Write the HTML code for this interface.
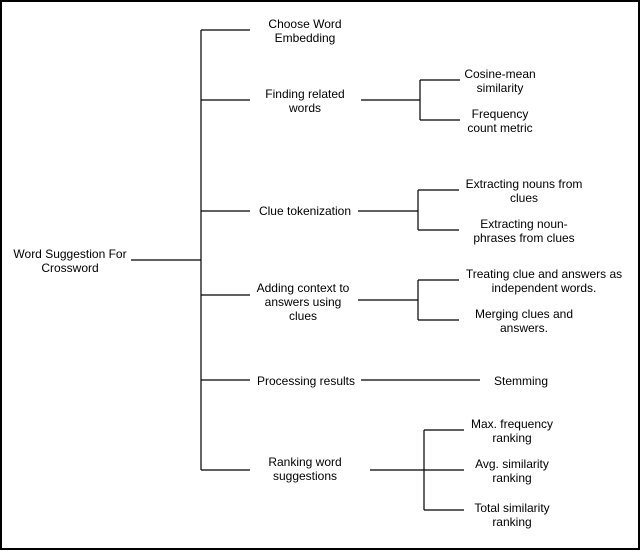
<!DOCTYPE html>
<html><head><style>
html,body{margin:0;padding:0;background:#fff;}
svg{display:block;}
text{font-family:"Liberation Sans",Arial,sans-serif;font-size:12px;fill:#000;text-anchor:middle;}
</style></head><body>
<svg width="641" height="551" viewBox="0 0 641 551" xmlns="http://www.w3.org/2000/svg">
<rect x="1" y="1" width="638" height="548" fill="#fff" stroke="#000" stroke-width="2"/>
<g stroke="#000" stroke-width="1.2" fill="none">
<path d="M131 260H201M201 30V470M201 30H250M201 100H250M201 211H250M201 295H250M201 380H250M201 470H250"/>
<path d="M361 100H420M420 80V120M420 80H460M420 120H460"/>
<path d="M358 211H418M418 190V230M418 190H459M418 230H459"/>
<path d="M358 300H418M418 280V320M418 280H459M418 320H459"/>
<path d="M361 380H480"/>
<path d="M370 470H464M424 430V510M424 430H464M424 510H464"/>
</g>
<text x="70" y="258">Word Suggestion For</text>
<text x="70" y="272">Crossword</text>
<text x="305" y="28">Choose Word</text>
<text x="305" y="42">Embedding</text>
<text x="305" y="98">Finding related</text>
<text x="305" y="112">words</text>
<text x="305" y="215">Clue tokenization</text>
<text x="303" y="292">Adding context to</text>
<text x="303" y="306">answers using</text>
<text x="303" y="320">clues</text>
<text x="306" y="385">Processing results</text>
<text x="305" y="466">Ranking word</text>
<text x="305" y="480">suggestions</text>
<text x="500" y="78">Cosine-mean</text>
<text x="500" y="92">similarity</text>
<text x="500" y="118">Frequency</text>
<text x="500" y="132">count metric</text>
<text x="524" y="188">Extracting nouns from</text>
<text x="524" y="202">clues</text>
<text x="524" y="228">Extracting noun-</text>
<text x="524" y="242">phrases from clues</text>
<text x="544" y="278">Treating clue and answers as</text>
<text x="544" y="292">independent words.</text>
<text x="524" y="318">Merging clues and</text>
<text x="524" y="332">answers.</text>
<text x="521" y="385">Stemming</text>
<text x="512" y="428">Max. frequency</text>
<text x="512" y="442">ranking</text>
<text x="512" y="468">Avg. similarity</text>
<text x="512" y="482">ranking</text>
<text x="512" y="512">Total similarity</text>
<text x="512" y="526">ranking</text>
</svg>
</body></html>
